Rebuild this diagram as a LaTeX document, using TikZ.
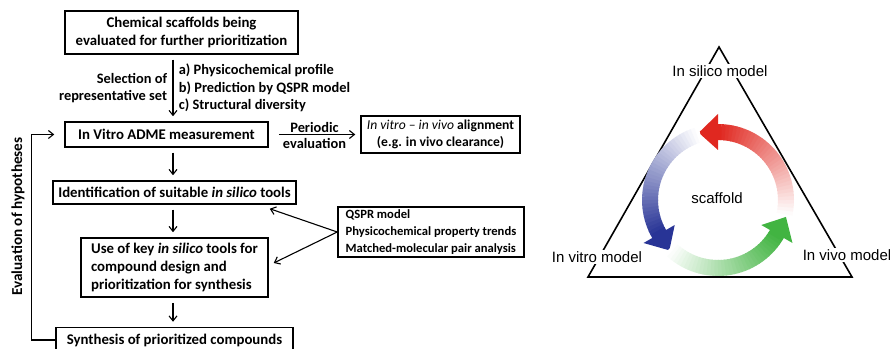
\documentclass[tikz,border=0pt]{standalone}
\usepackage{fontspec}
\setmainfont{Carlito}
\newfontfamily\arialfont{Liberation Sans}
\usetikzlibrary{arrows.meta}
\definecolor{ringred}{RGB}{224,40,32}
\definecolor{ringblue}{RGB}{40,52,150}
\definecolor{ringgreen}{RGB}{66,180,66}
\tikzset{
	box/.style={draw,line width=1.5pt,inner sep=0pt,align=center,font=\fontsize{14.8}{18}\selectfont\bfseries},
	flow/.style={line width=1.1pt,-{Straight Barb[length=5pt,width=8pt]},shorten <=5pt,shorten >=5pt},
	lbl/.style={font=\fontsize{14.4}{17.5}\selectfont\bfseries},
	model/.style={fill=white,inner sep=1pt,font=\arialfont\fontsize{15}{18}\selectfont},
}
\begin{document}
\begin{tikzpicture}[x=1pt,y=1pt]
			\useasboundingbox (0,0) rectangle (890,348);
			% flow chart
			\coordinate (axis) at (173,0);
			\node[box,minimum width=233pt,minimum height=43pt] (scaf) at (181.5,315.5) {Chemical scaffolds being\\evaluated for further prioritization};
			\node[box,minimum width=203pt,minimum height=25pt] (adme) at (166.5,213.5) {In Vitro ADME measurement};
			\node[box,minimum width=243pt,minimum height=23pt] (ident) at (174.5,155.5) {Identification of suitable \textit{in silico} tools};
			\node[box,align=left,minimum width=187pt,minimum height=59pt] (usekey) at (174.5,80.5) {Use of key \textit{in silico} tools for\\compound design and\\prioritization for synthesis};
			\node[box,minimum width=237pt,minimum height=25pt] (synth) at (174.5,8) {Synthesis of prioritized compounds};
			\node[box,minimum width=159pt,minimum height=37pt,font=\fontsize{13.6}{17}\selectfont\bfseries] (align) at (440.5,213.5) {{\mdseries\itshape In vitro – in vivo} alignment\\(e.g. in vivo clearance)};
			\node[box,align=left,minimum width=186pt,minimum height=50pt,font=\fontsize{12.6}{17}\selectfont\bfseries] (qspr) at (431,116) {QSPR model\\Physicochemical property trends\\Matched-molecular pair analysis};
			\draw[flow] (scaf.south -| axis) -- node[lbl,left,align=right,xshift=-2pt] {Selection of\\representative set} node[lbl,right,align=left,xshift=2pt] {a) Physicochemical profile\\b) Prediction by QSPR model\\c) Structural diversity} (adme.north -| axis);
			\draw[flow] (adme.south -| axis) -- (ident.north -| axis);
			\draw[flow] (ident.south -| axis) -- (usekey.north -| axis);
			\draw[flow] (usekey.south -| axis) -- (synth.north -| axis);
			\draw[flow,shorten <=0pt,shorten >=10pt] (synth.west) -- ++(-24,0) |- (adme.west);
			\node[lbl,rotate=90,font=\fontsize{15.2}{18}\selectfont\bfseries] (evalhyp) at (18,131.5) {Evaluation of hypotheses};
			\draw[flow,shorten <=10pt] (adme.east) -- node[lbl,above,inner sep=1pt] {Periodic} node[lbl,below=3pt,inner sep=0pt] {evaluation} (align.west);
			\draw[flow,shorten <=0pt,shorten >=0pt] (qspr.west) -- ([shift={(-27,-4)}]ident.south east);
			\draw[flow,shorten <=0pt,shorten >=0pt] (qspr.west) -- ([shift={(5,4.5)}]usekey.east);
			% triangle with cycle
			\coordinate (apex) at (719,301);
			\coordinate (lft) at (588,71);
			\coordinate (rgt) at (852,71);
			\coordinate (ctr) at (718,148);
			\draw[line width=1.6pt,line join=miter] (apex) -- (lft) -- (rgt) -- cycle;
			\foreach \col/\b in {ringred/90,ringblue/210,ringgreen/330} {
				\foreach \i in {0,...,34} {
					\pgfmathtruncatemacro\p{100*\i/34}
					\pgfmathsetmacro\s{\b-105+3*\i}
					\pgfmathsetmacro\e{\s+3.6}
					\draw[line width=16pt,\col!\p!white,shift={(ctr)}] (\s:68) arc[start angle=\s,end angle=\e,radius=68];
				}
				\fill[\col,shift={(ctr)}] (\b:50) -- (\b:86) -- (\b+16:70) -- cycle;
			}
			\node[model] (silico) at (720,277) {In silico model};
			\node[model] (vitro) at (597,91) {In vitro model};
			\node[model] (vivo) at (847,93) {In vivo model};
			\node[model,fill=none] (scaffold) at (717,150) {scaffold};
		\end{tikzpicture}
\end{document}
